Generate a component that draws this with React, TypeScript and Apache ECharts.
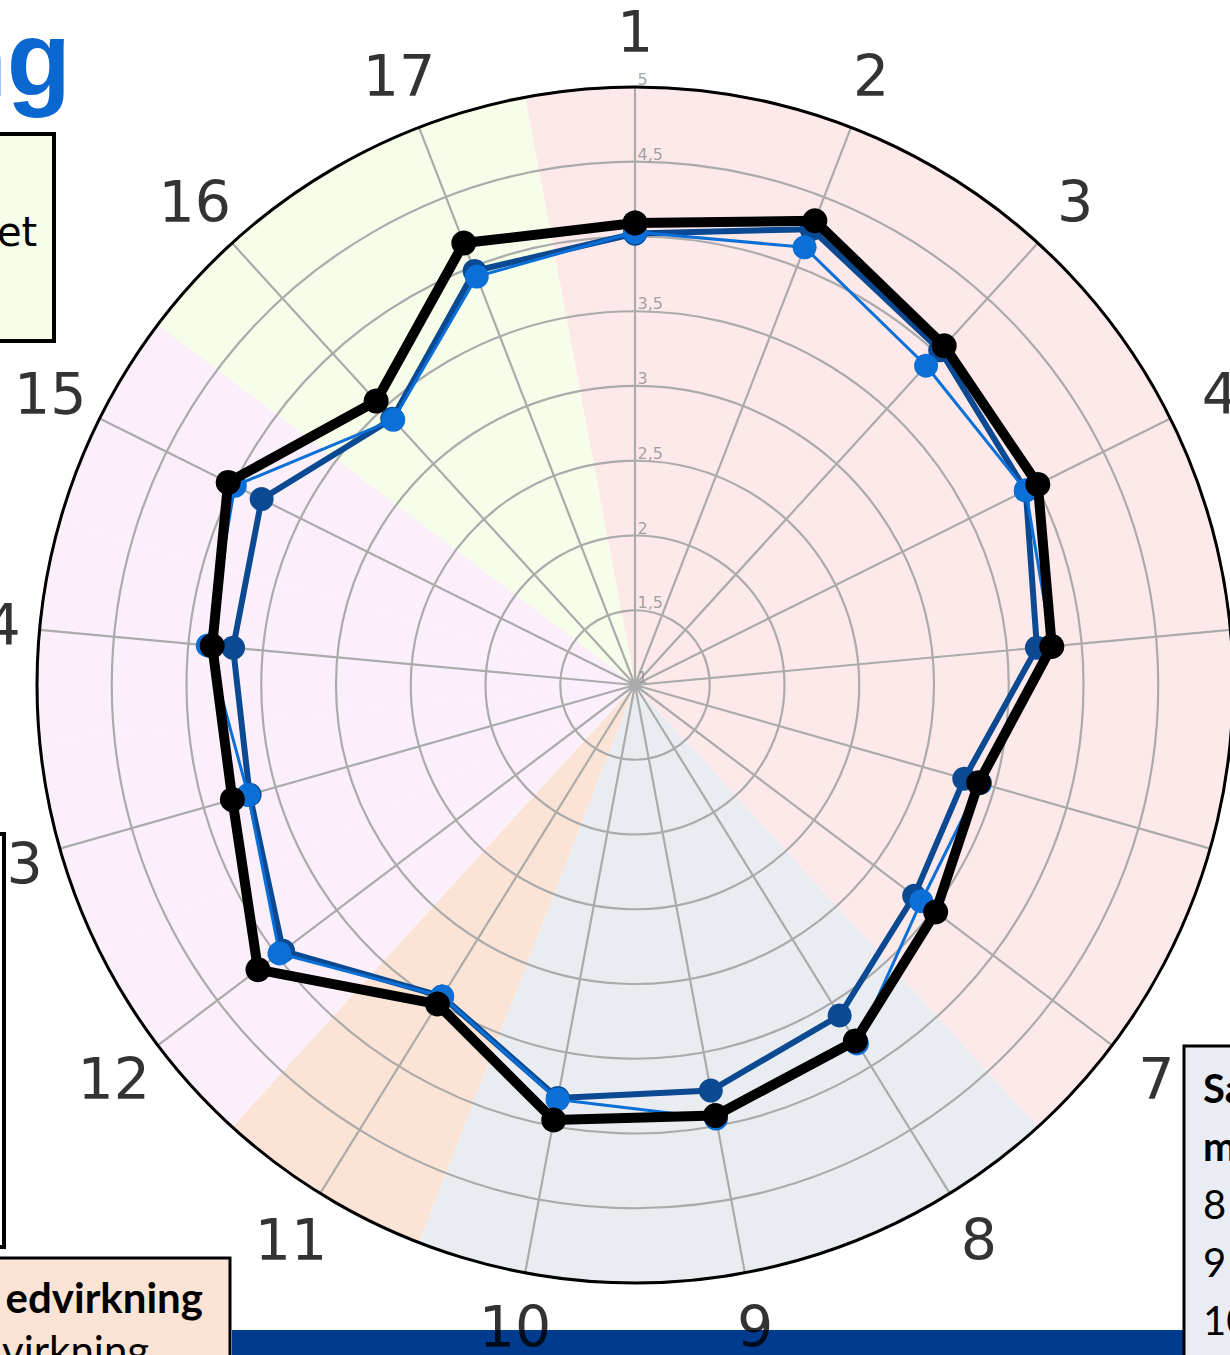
import React, { useEffect, useRef } from 'react';
import * as echarts from 'echarts';

// ---- data ----
const categories = ['1', '2', '3', '4', '5', '6', '7', '8', '9', '10', '11', '12', '13', '14', '15', '16', '17'];
const radiusTicks = [1, 1.5, 2, 2.5, 3, 3.5, 4, 4.5, 5];
const sectorGroups = ['A', 'A', 'A', 'A', 'A', 'A', 'A', 'B', 'B', 'B', 'C', 'D', 'D', 'D', 'D', 'E', 'E'];
const groupColors: Record<string, string> = {
  A: '#fde9ea',
  B: '#e9edf2',
  C: '#fbe4d5',
  D: '#fbeffb',
  E: '#f6fde8',
};
const seriesNavy = [4.02, 4.27, 4.03, 3.92, 3.70, 3.29, 3.34, 3.60, 3.76, 3.81, 3.45, 3.95, 3.68, 3.70, 3.79, 3.41, 3.97];
const seriesLight = [4.03, 4.14, 3.89, 3.92, 3.80, 3.40, 3.40, 3.82, 3.95, 3.82, 3.45, 3.98, 3.69, 3.87, 3.99, 3.40, 3.93];
const seriesBlack = [4.09, 4.33, 4.07, 4.01, 3.80, 3.39, 3.52, 3.80, 3.93, 3.96, 3.51, 4.16, 3.80, 3.84, 4.04, 3.57, 4.17];

// ---- layout ----
const CENTER = [635, 685];
const RADIUS = 598;
const LABEL_R = 5.37;
const N = categories.length;

function closed(vals: number[]) {
  const pts = vals.map((v, i) => [v, i]);
  pts.push([vals[0], N]);
  return pts;
}

function lineSeries(name: string, vals: number[], color: string, width: number, size: number, z: number) {
  return {
    name,
    type: 'line',
    coordinateSystem: 'polar',
    polarIndex: 1,
    data: closed(vals),
    symbol: 'circle',
    symbolSize: size,
    clip: false,
    lineStyle: { color, width },
    itemStyle: { color },
    z,
    silent: true,
  };
}

export default function App() {
  const ref = useRef<HTMLDivElement>(null);
  useEffect(() => {
    if (!ref.current) return;
    const chart = echarts.init(ref.current, undefined, { renderer: 'svg' });
    const gridColor = '#ababab';
    const option: any = {
      animation: false,
      backgroundColor: '#ffffff',
      polar: [
        { center: CENTER, radius: RADIUS },
        { center: CENTER, radius: RADIUS },
      ],
      angleAxis: [
        {
          polarIndex: 0,
          type: 'category',
          data: categories,
          boundaryGap: true,
          startAngle: 90 + 180 / N,
          clockwise: true,
          axisLine: { show: false },
          axisTick: { show: false },
          axisLabel: { show: false },
          splitLine: { show: false },
        },
        {
          polarIndex: 1,
          type: 'value',
          min: 0,
          max: N,
          interval: 1,
          startAngle: 90,
          clockwise: true,
          z: 5,
          axisLine: { show: true, lineStyle: { color: '#000', width: 3 } },
          axisTick: { show: false },
          axisLabel: { show: false },
          splitLine: { show: true, lineStyle: { color: gridColor, width: 2.2 } },
        },
      ],
      radiusAxis: [
        { polarIndex: 0, type: 'value', min: 0, max: 5, show: false, axisLine: { show: false }, axisLabel: { show: false }, splitLine: { show: false }, axisTick: { show: false } },
        {
          polarIndex: 1,
          type: 'value',
          min: 1,
          max: 5,
          interval: 0.5,
          z: 5,
          axisLine: { show: false },
          axisTick: { show: false },
          axisLabel: { show: false },
          splitLine: { show: true, lineStyle: { color: gridColor, width: 2.2 } },
        },
      ],
      series: [
        {
          type: 'bar',
          coordinateSystem: 'polar',
          polarIndex: 0,
          barCategoryGap: '0%',
          barGap: '0%',
          silent: true,
          z: 1,
          data: sectorGroups.map((g) => ({ value: 5, itemStyle: { color: groupColors[g] } })),
        },
        lineSeries('Serie 1', seriesNavy, '#0b4a92', 6, 24, 10),
        lineSeries('Serie 2', seriesLight, '#0a6fd6', 3, 24, 11),
        lineSeries('Serie 3', seriesBlack, '#000000', 10, 25, 12),
        {
          type: 'scatter',
          coordinateSystem: 'polar',
          polarIndex: 1,
          clip: false,
          silent: true,
          z: 20,
          symbolSize: 1,
          itemStyle: { color: 'rgba(0,0,0,0)' },
          data: categories.map((c, i) => [LABEL_R, i]),
          label: {
            show: true,
            position: 'inside',
            formatter: (p: any) => categories[p.dataIndex],
            fontSize: 57,
            fontFamily: 'DejaVu Sans',
            color: '#000',
          },
        },
        {
          type: 'scatter',
          coordinateSystem: 'polar',
          polarIndex: 1,
          clip: false,
          silent: true,
          z: 6,
          symbolSize: 1,
          itemStyle: { color: 'rgba(0,0,0,0)' },
          data: radiusTicks.map((v) => [v, 0]),
          label: {
            show: true,
            position: [3, 1],
            align: 'left',
            verticalAlign: 'bottom',
            formatter: (p: any) => String(radiusTicks[p.dataIndex]).replace('.', ','),
            fontSize: 16,
            fontFamily: 'DejaVu Sans',
            color: '#8c8c8c',
          },
        },
      ],
      graphic: [
        { type: 'rect', z: 1, shape: { x: 232, y: 1330, width: 951, height: 30 }, style: { fill: '#013b8e' } },
        { type: 'text', z: 50, style: { text: 'ng', x: 71, y: 59, align: 'right', verticalAlign: 'middle', font: 'bold 105px "Liberation Sans", Arial', fill: '#0a67d0' } },
        { type: 'rect', z: 50, shape: { x: -20, y: 134, width: 74, height: 207 }, style: { fill: '#f6fde9', stroke: '#000', lineWidth: 4 } },
        { type: 'text', z: 51, style: { text: 'et', x: -3, y: 232, verticalAlign: 'middle', font: '40px "DejaVu Sans"', fill: '#000' } },
        { type: 'rect', z: 50, shape: { x: -20, y: 834, width: 24, height: 413 }, style: { fill: '#ffffff', stroke: '#000', lineWidth: 4 } },
        { type: 'rect', z: 50, shape: { x: -20, y: 1258, width: 250, height: 140 }, style: { fill: '#fbe4d5', stroke: '#000', lineWidth: 3 } },
        { type: 'text', z: 51, style: { text: 'edvirkning', x: 203, y: 1297, align: 'right', verticalAlign: 'middle', font: 'bold 42px Lato', fill: '#000' } },
        { type: 'text', z: 51, style: { text: 'virkning', x: 2, y: 1350, align: 'left', verticalAlign: 'middle', font: '42px Lato', fill: '#000' } },
        { type: 'rect', z: 50, shape: { x: 1184, y: 1046, width: 80, height: 340 }, style: { fill: '#e9edf3', stroke: '#000', lineWidth: 3 } },
        { type: 'text', z: 51, style: { text: 'Sa', x: 1203, y: 1088, verticalAlign: 'middle', font: 'bold 40px Lato', fill: '#000' } },
        { type: 'text', z: 51, style: { text: 'm', x: 1203, y: 1146, verticalAlign: 'middle', font: 'bold 40px Lato', fill: '#000' } },
        { type: 'text', z: 51, style: { text: '8', x: 1203, y: 1204, verticalAlign: 'middle', font: '40px Lato', fill: '#000' } },
        { type: 'text', z: 51, style: { text: '9', x: 1203, y: 1262, verticalAlign: 'middle', font: '40px Lato', fill: '#000' } },
        { type: 'text', z: 51, style: { text: '10', x: 1203, y: 1320, verticalAlign: 'middle', font: '40px Lato', fill: '#000' } },
      ],
    };
    chart.setOption(option);
    return () => chart.dispose();
  }, []);
  return (
    <div style={{ position: 'absolute', left: 0, top: 0, width: 1230, height: 1355, overflow: 'hidden', background: '#fff' }}>
      <div ref={ref} style={{ width: 1230, height: 1355 }} />
    </div>
  );
}
